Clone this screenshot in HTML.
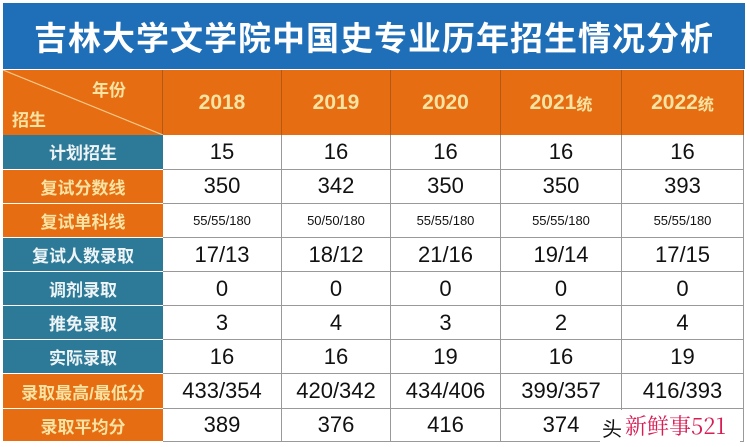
<!DOCTYPE html>
<html><head><meta charset="utf-8"><style>
body{margin:0;width:750px;height:447px;background:#fff;position:relative;overflow:hidden;font-family:"Liberation Sans","Noto Sans CJK SC",sans-serif}
.a{position:absolute;display:flex;align-items:center;justify-content:center;box-sizing:border-box}
.t{background:#1f6fb8}
.o{background:#e66d12;color:#f8e3a2;font-weight:bold}
.b{background:#2c7a98;color:#eef4f6;font-weight:bold}
.c{background:#fff;color:#111;border-right:1px solid #999;border-bottom:1px solid #999}
</style></head><body>
<div class="a t" style="left:3px;top:3px;width:742px;height:66px;color:#fff;font-size:33px;font-weight:bold;letter-spacing:1px">吉林大学文学院中国史专业历年招生情况分析</div>
<div class="a o" style="left:3px;top:70px;width:160px;height:65px;border-right:1px solid #b25a15"></div>
<svg style="position:absolute;left:3px;top:70px" width="160" height="65"><line x1="0" y1="0" x2="160" y2="65" stroke="#f5c98a" stroke-width="1.2"/></svg>
<div style="position:absolute;left:92px;top:76px;color:#f8e3a2;font-weight:bold;font-size:17px">年份</div>
<div style="position:absolute;left:12px;top:106px;color:#f8e3a2;font-weight:bold;font-size:17px">招生</div>
<div id="g"></div>
<script>
var cols=[163,282,391,501,622,744];
var yrs=["2018","2019","2020","2021 <span style='font-size:16px'>统</span>","2022 <span style='font-size:16px'>统</span>"];
var h='';
for(var i=0;i<5;i++)h+='<div class="a o" style="left:'+cols[i]+'px;top:70px;width:'+(cols[i+1]-cols[i])+'px;height:65px;font-size:21px;border-right:1px solid #b25a15">'+yrs[i]+'</div>';
var labels=["计划招生","复试分数线","复试单科线","复试人数录取","调剂录取","推免录取","实际录取","录取最高/最低分","录取平均分"];
var cls=["b","o","o","b","b","b","b","o","o"];
var data=[["15","16","16","16","16"],["350","342","350","350","393"],["55/55/180","50/50/180","55/55/180","55/55/180","55/55/180"],["17/13","18/12","21/16","19/14","17/15"],["0","0","0","0","0"],["3","4","3","2","4"],["16","16","19","16","19"],["433/354","420/342","434/406","399/357","416/393"],["389","376","416","374",""]];
var rows=[135,169.5,204,238,272,306,340,374,409,442];
for(var r=0;r<9;r++){var y=rows[r],hh=rows[r+1]-rows[r];
h+='<div class="a '+cls[r]+'" style="left:3px;top:'+y+'px;width:160px;height:'+hh+'px;font-size:17px;border-bottom:1px solid #fff">'+labels[r]+'</div>';
for(var i=0;i<5;i++)h+='<div class="a c" style="left:'+cols[i]+'px;top:'+y+'px;width:'+(cols[i+1]-cols[i])+'px;height:'+hh+'px;font-size:'+(r==2?13:22)+'px">'+data[r][i]+'</div>';}
h+='<div style="position:absolute;left:600px;top:410px;width:140px;height:33px;background:#fff"></div>';
h+='<div style="position:absolute;left:602px;top:413px;font-size:20px;color:#111">头</div>';
h+='<div style="position:absolute;left:625px;top:410px;font-size:22px;color:#d81d55;font-family:\'Noto Serif CJK SC\',serif">新鲜事521</div>';
document.getElementById('g').innerHTML=h;
</script>
</body></html>
